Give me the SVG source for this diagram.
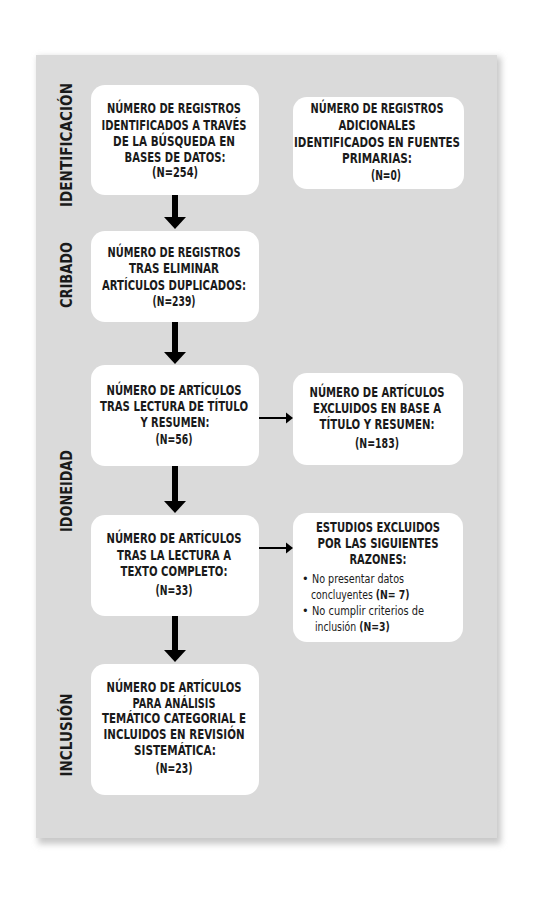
<svg xmlns="http://www.w3.org/2000/svg" width="537" height="900" viewBox="0 0 537 900">
<style>
.box{fill:#ffffff;}
.t{font-family:"DejaVu Sans Condensed","Liberation Sans",sans-serif;font-weight:bold;font-size:13.8px;fill:#1a1a1a;text-anchor:middle;}
.r{font-family:"DejaVu Sans Condensed","Liberation Sans",sans-serif;font-weight:normal;font-size:12.5px;fill:#1a1a1a;}
.b{font-weight:bold;}
.side{font-family:"DejaVu Sans Condensed","Liberation Sans",sans-serif;font-weight:bold;font-size:15px;fill:#1a1a1a;text-anchor:middle;}
.thick{stroke:#000;stroke-width:6;fill:none;}
.thin{stroke:#000;stroke-width:2;fill:none;}
</style>
<defs>
<filter id="sh" x="-5%" y="-5%" width="110%" height="110%"><feGaussianBlur stdDeviation="3"/></filter>
</defs>
<rect x="0" y="0" width="537" height="900" fill="#ffffff"/>
<rect x="38" y="57" width="463" height="787" fill="#c8c8c8" filter="url(#sh)"/>
<rect x="36" y="55" width="461" height="783" fill="#dadada"/>

<g id="side-labels">
<text class="side" transform="translate(72,145) rotate(-90)" textLength="124" lengthAdjust="spacingAndGlyphs">IDENTIFICACIÓN</text>
<text class="side" transform="translate(72,275) rotate(-90)" textLength="66" lengthAdjust="spacingAndGlyphs">CRIBADO</text>
<text class="side" transform="translate(72,491) rotate(-90)" textLength="82" lengthAdjust="spacingAndGlyphs">IDONEIDAD</text>
<text class="side" transform="translate(72,735) rotate(-90)" textLength="83" lengthAdjust="spacingAndGlyphs">INCLUSIÓN</text>
</g>

<g id="n1">
<rect class="box" x="91" y="85" width="168" height="110" rx="14"/>
<text class="t" x="174" y="113" textLength="134" lengthAdjust="spacingAndGlyphs">NÚMERO DE REGISTROS</text>
<text class="t" x="174" y="130" textLength="145" lengthAdjust="spacingAndGlyphs">IDENTIFICADOS A TRAVÉS</text>
<text class="t" x="174" y="146" textLength="122" lengthAdjust="spacingAndGlyphs">DE LA BÚSQUEDA EN</text>
<text class="t" x="175" y="162" textLength="101" lengthAdjust="spacingAndGlyphs">BASES DE DATOS:</text>
<text class="t" x="175" y="177" textLength="46" lengthAdjust="spacingAndGlyphs">(N=254)</text>
</g>

<g id="n2">
<rect class="box" x="293" y="97" width="171" height="92" rx="14"/>
<text class="t" x="377" y="113" textLength="133" lengthAdjust="spacingAndGlyphs">NÚMERO DE REGISTROS</text>
<text class="t" x="377" y="130" textLength="77" lengthAdjust="spacingAndGlyphs">ADICIONALES</text>
<text class="t" x="377" y="147" textLength="166" lengthAdjust="spacingAndGlyphs">IDENTIFICADOS EN FUENTES</text>
<text class="t" x="377" y="163" textLength="70" lengthAdjust="spacingAndGlyphs">PRIMARIAS:</text>
<text class="t" x="386" y="180" textLength="30" lengthAdjust="spacingAndGlyphs">(N=0)</text>
</g>

<g id="n3">
<rect class="box" x="91" y="231" width="168" height="91" rx="14"/>
<text class="t" x="174" y="257" textLength="133" lengthAdjust="spacingAndGlyphs">NÚMERO DE REGISTROS</text>
<text class="t" x="174" y="273" textLength="90" lengthAdjust="spacingAndGlyphs">TRAS ELIMINAR</text>
<text class="t" x="174" y="290" textLength="144" lengthAdjust="spacingAndGlyphs">ARTÍCULOS DUPLICADOS:</text>
<text class="t" x="174" y="306" textLength="43" lengthAdjust="spacingAndGlyphs">(N=239)</text>
</g>

<g id="n4">
<rect class="box" x="91" y="365" width="168" height="101" rx="14"/>
<text class="t" x="174" y="395" textLength="135" lengthAdjust="spacingAndGlyphs">NÚMERO DE ARTÍCULOS</text>
<text class="t" x="174" y="411" textLength="148" lengthAdjust="spacingAndGlyphs">TRAS LECTURA DE TÍTULO</text>
<text class="t" x="175" y="427" textLength="69" lengthAdjust="spacingAndGlyphs">Y RESUMEN:</text>
<text class="t" x="174" y="444" textLength="37" lengthAdjust="spacingAndGlyphs">(N=56)</text>
</g>

<g id="n5">
<rect class="box" x="293" y="373" width="170" height="92" rx="14"/>
<text class="t" x="377" y="397" textLength="135" lengthAdjust="spacingAndGlyphs">NÚMERO DE ARTÍCULOS</text>
<text class="t" x="377" y="413" textLength="128" lengthAdjust="spacingAndGlyphs">EXCLUIDOS EN BASE A</text>
<text class="t" x="377" y="429" textLength="115" lengthAdjust="spacingAndGlyphs">TÍTULO Y RESUMEN:</text>
<text class="t" x="377" y="448" textLength="44" lengthAdjust="spacingAndGlyphs">(N=183)</text>
</g>

<g id="n6">
<rect class="box" x="91" y="515" width="168" height="101" rx="14"/>
<text class="t" x="174" y="543" textLength="135" lengthAdjust="spacingAndGlyphs">NÚMERO DE ARTÍCULOS</text>
<text class="t" x="174" y="560" textLength="114" lengthAdjust="spacingAndGlyphs">TRAS LA LECTURA A</text>
<text class="t" x="174" y="576" textLength="107" lengthAdjust="spacingAndGlyphs">TEXTO COMPLETO:</text>
<text class="t" x="174" y="595" textLength="37" lengthAdjust="spacingAndGlyphs">(N=33)</text>
</g>

<g id="n7">
<rect class="box" x="293" y="513" width="170" height="129" rx="14"/>
<text class="t" x="378" y="532" textLength="124" lengthAdjust="spacingAndGlyphs">ESTUDIOS EXCLUIDOS</text>
<text class="t" x="378" y="548" textLength="121" lengthAdjust="spacingAndGlyphs">POR LAS SIGUIENTES</text>
<text class="t" x="378" y="564" textLength="57" lengthAdjust="spacingAndGlyphs">RAZONES:</text>
<text class="r" x="302" y="583">•</text>
<text class="r" x="312" y="583" textLength="92" lengthAdjust="spacingAndGlyphs">No presentar datos</text>
<text class="r" transform="translate(311,599) scale(0.83,1)">concluyentes <tspan class="b">(N= 7)</tspan></text>
<text class="r" x="302" y="615">•</text>
<text class="r" x="312" y="615" textLength="112" lengthAdjust="spacingAndGlyphs">No cumplir criterios de</text>
<text class="r" transform="translate(315,631) scale(0.83,1)">inclusión <tspan class="b">(N=3)</tspan></text>
</g>

<g id="n8">
<rect class="box" x="91" y="664" width="168" height="131" rx="14"/>
<text class="t" x="174" y="692" textLength="135" lengthAdjust="spacingAndGlyphs">NÚMERO DE ARTÍCULOS</text>
<text class="t" x="174" y="708" textLength="83" lengthAdjust="spacingAndGlyphs">PARA ANÁLISIS</text>
<text class="t" x="174" y="723" textLength="144" lengthAdjust="spacingAndGlyphs">TEMÁTICO CATEGORIAL E</text>
<text class="t" x="174" y="739" textLength="141" lengthAdjust="spacingAndGlyphs">INCLUIDOS EN REVISIÓN</text>
<text class="t" x="175" y="755" textLength="82" lengthAdjust="spacingAndGlyphs">SISTEMÁTICA:</text>
<text class="t" x="174" y="773" textLength="37" lengthAdjust="spacingAndGlyphs">(N=23)</text>
</g>

<g id="connectors">
<line class="thick" x1="175" y1="195" x2="175" y2="218"/>
<polygon points="164,217 186,217 175,229" fill="#000"/>
<line class="thick" x1="175" y1="322" x2="175" y2="353"/>
<polygon points="164,352 186,352 175,364" fill="#000"/>
<line class="thick" x1="175" y1="466" x2="175" y2="502"/>
<polygon points="164,501 186,501 175,513" fill="#000"/>
<line class="thick" x1="175" y1="616" x2="175" y2="651"/>
<polygon points="164,650 186,650 175,662" fill="#000"/>
<line class="thin" x1="259" y1="418" x2="287" y2="418"/>
<polygon points="286,412.5 293,418 286,423.5" fill="#000"/>
<line class="thin" x1="259" y1="548" x2="287" y2="548"/>
<polygon points="286,542.5 293,548 286,553.5" fill="#000"/>
</g>
</svg>
